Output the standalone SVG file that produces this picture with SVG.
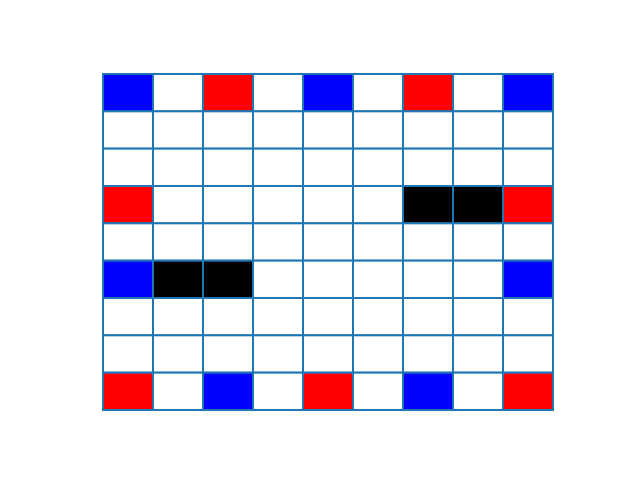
<svg xmlns="http://www.w3.org/2000/svg" width="640" height="480" viewBox="0 0 640 480">
<style>
.c{stroke:#1f77b4;stroke-width:2}
.w{fill:#ffffff}.r{fill:#ff0000}.b{fill:#0000ff}.k{fill:#000000}
</style>
<rect width="640" height="480" fill="#ffffff"/>
<g id="grid">
<g id="row0">
<rect class="c b" x="103" y="74" width="50" height="37.33"/>
<rect class="c w" x="153" y="74" width="50" height="37.33"/>
<rect class="c r" x="203" y="74" width="50" height="37.33"/>
<rect class="c w" x="253" y="74" width="50" height="37.33"/>
<rect class="c b" x="303" y="74" width="50" height="37.33"/>
<rect class="c w" x="353" y="74" width="50" height="37.33"/>
<rect class="c r" x="403" y="74" width="50" height="37.33"/>
<rect class="c w" x="453" y="74" width="50" height="37.33"/>
<rect class="c b" x="503" y="74" width="50" height="37.33"/>
</g>
<g id="row1">
<rect class="c w" x="103" y="111.33" width="50" height="37.33"/>
<rect class="c w" x="153" y="111.33" width="50" height="37.33"/>
<rect class="c w" x="203" y="111.33" width="50" height="37.33"/>
<rect class="c w" x="253" y="111.33" width="50" height="37.33"/>
<rect class="c w" x="303" y="111.33" width="50" height="37.33"/>
<rect class="c w" x="353" y="111.33" width="50" height="37.33"/>
<rect class="c w" x="403" y="111.33" width="50" height="37.33"/>
<rect class="c w" x="453" y="111.33" width="50" height="37.33"/>
<rect class="c w" x="503" y="111.33" width="50" height="37.33"/>
</g>
<g id="row2">
<rect class="c w" x="103" y="148.67" width="50" height="37.33"/>
<rect class="c w" x="153" y="148.67" width="50" height="37.33"/>
<rect class="c w" x="203" y="148.67" width="50" height="37.33"/>
<rect class="c w" x="253" y="148.67" width="50" height="37.33"/>
<rect class="c w" x="303" y="148.67" width="50" height="37.33"/>
<rect class="c w" x="353" y="148.67" width="50" height="37.33"/>
<rect class="c w" x="403" y="148.67" width="50" height="37.33"/>
<rect class="c w" x="453" y="148.67" width="50" height="37.33"/>
<rect class="c w" x="503" y="148.67" width="50" height="37.33"/>
</g>
<g id="row3">
<rect class="c r" x="103" y="186" width="50" height="37.33"/>
<rect class="c w" x="153" y="186" width="50" height="37.33"/>
<rect class="c w" x="203" y="186" width="50" height="37.33"/>
<rect class="c w" x="253" y="186" width="50" height="37.33"/>
<rect class="c w" x="303" y="186" width="50" height="37.33"/>
<rect class="c w" x="353" y="186" width="50" height="37.33"/>
<rect class="c k" x="403" y="186" width="50" height="37.33"/>
<rect class="c k" x="453" y="186" width="50" height="37.33"/>
<rect class="c r" x="503" y="186" width="50" height="37.33"/>
</g>
<g id="row4">
<rect class="c w" x="103" y="223.33" width="50" height="37.33"/>
<rect class="c w" x="153" y="223.33" width="50" height="37.33"/>
<rect class="c w" x="203" y="223.33" width="50" height="37.33"/>
<rect class="c w" x="253" y="223.33" width="50" height="37.33"/>
<rect class="c w" x="303" y="223.33" width="50" height="37.33"/>
<rect class="c w" x="353" y="223.33" width="50" height="37.33"/>
<rect class="c w" x="403" y="223.33" width="50" height="37.33"/>
<rect class="c w" x="453" y="223.33" width="50" height="37.33"/>
<rect class="c w" x="503" y="223.33" width="50" height="37.33"/>
</g>
<g id="row5">
<rect class="c b" x="103" y="260.67" width="50" height="37.33"/>
<rect class="c k" x="153" y="260.67" width="50" height="37.33"/>
<rect class="c k" x="203" y="260.67" width="50" height="37.33"/>
<rect class="c w" x="253" y="260.67" width="50" height="37.33"/>
<rect class="c w" x="303" y="260.67" width="50" height="37.33"/>
<rect class="c w" x="353" y="260.67" width="50" height="37.33"/>
<rect class="c w" x="403" y="260.67" width="50" height="37.33"/>
<rect class="c w" x="453" y="260.67" width="50" height="37.33"/>
<rect class="c b" x="503" y="260.67" width="50" height="37.33"/>
</g>
<g id="row6">
<rect class="c w" x="103" y="298" width="50" height="37.33"/>
<rect class="c w" x="153" y="298" width="50" height="37.33"/>
<rect class="c w" x="203" y="298" width="50" height="37.33"/>
<rect class="c w" x="253" y="298" width="50" height="37.33"/>
<rect class="c w" x="303" y="298" width="50" height="37.33"/>
<rect class="c w" x="353" y="298" width="50" height="37.33"/>
<rect class="c w" x="403" y="298" width="50" height="37.33"/>
<rect class="c w" x="453" y="298" width="50" height="37.33"/>
<rect class="c w" x="503" y="298" width="50" height="37.33"/>
</g>
<g id="row7">
<rect class="c w" x="103" y="335.33" width="50" height="37.33"/>
<rect class="c w" x="153" y="335.33" width="50" height="37.33"/>
<rect class="c w" x="203" y="335.33" width="50" height="37.33"/>
<rect class="c w" x="253" y="335.33" width="50" height="37.33"/>
<rect class="c w" x="303" y="335.33" width="50" height="37.33"/>
<rect class="c w" x="353" y="335.33" width="50" height="37.33"/>
<rect class="c w" x="403" y="335.33" width="50" height="37.33"/>
<rect class="c w" x="453" y="335.33" width="50" height="37.33"/>
<rect class="c w" x="503" y="335.33" width="50" height="37.33"/>
</g>
<g id="row8">
<rect class="c r" x="103" y="372.67" width="50" height="37.33"/>
<rect class="c w" x="153" y="372.67" width="50" height="37.33"/>
<rect class="c b" x="203" y="372.67" width="50" height="37.33"/>
<rect class="c w" x="253" y="372.67" width="50" height="37.33"/>
<rect class="c r" x="303" y="372.67" width="50" height="37.33"/>
<rect class="c w" x="353" y="372.67" width="50" height="37.33"/>
<rect class="c b" x="403" y="372.67" width="50" height="37.33"/>
<rect class="c w" x="453" y="372.67" width="50" height="37.33"/>
<rect class="c r" x="503" y="372.67" width="50" height="37.33"/>
</g>
</g>
</svg>
